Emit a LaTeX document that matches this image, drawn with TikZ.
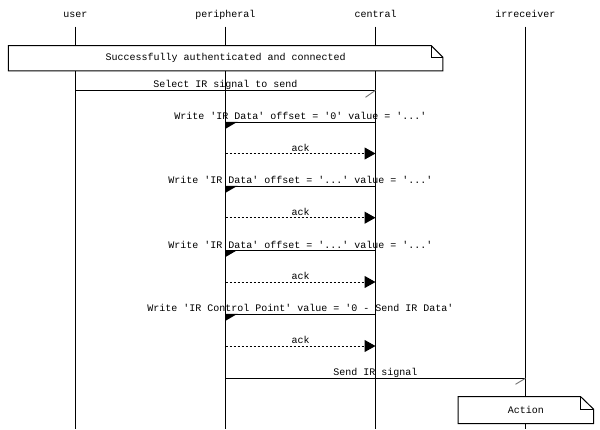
\documentclass[tikz,border=0pt]{standalone}
\usepackage{fontspec}
\setmonofont{Liberation Mono}
\usetikzlibrary{arrows.meta,calc}

\tikzset{
  every node/.style={font=\ttfamily\fontsize{10}{12}\selectfont, inner sep=0pt},
  entity/.style={anchor=base},
  lifeline/.style={line width=1pt},
  msg/.style={line width=1pt},
  reply/.style={line width=1pt, dash pattern=on 2pt off 2pt,
                -{Triangle[length=11pt,width=12pt]}},
  msglabel/.style={anchor=base, yshift=2.5pt, midway},
  barb/.style={line width=0.9pt, black!55},
  writehead/.style={fill=black},
  notebody/.style={fill=white},
  noteline/.style={line width=1pt, line join=miter},
}

\begin{document}
\begin{tikzpicture}[x=1pt,y=-1pt]
  \useasboundingbox (0,0) rectangle (600,429);
  \fill[white] (0,0) rectangle (600,429);

  % entities
  \node[entity] (user)       at (75.5,17)  {user};
  \node[entity] (peripheral) at (225.5,17) {peripheral};
  \node[entity] (central)    at (375.5,17) {central};
  \node[entity] (irreceiver) at (525.5,17) {irreceiver};
  \coordinate (bottom) at (0,429);

  % lifelines
  \foreach \e in {user,peripheral,central,irreceiver}
    \draw[lifeline] ([yshift=-9.5pt]\e.base) -- (\e.base |- bottom);

  % message rows
  \coordinate (r0) at (0,90.3);
  \coordinate (r1) at (0,122.3);
  \coordinate (r2) at (0,153.5);
  \coordinate (r3) at (0,186.3);
  \coordinate (r4) at (0,217.7);
  \coordinate (r5) at (0,250.5);
  \coordinate (r6) at (0,282);
  \coordinate (r7) at (0,314.3);
  \coordinate (r8) at (0,346);
  \coordinate (r9) at (0,378.3);

  % user selects a signal
  \draw[msg] (user |- r0) -- node[msglabel] (m0) {Select IR signal to send} (central |- r0);
  \draw[barb] (central |- r0) -- ++(-10,7);

  % data writes and acknowledgements
  \draw[msg] (central |- r1) -- node[msglabel] (m1) {Write 'IR Data' offset = '0' value = '...'} (peripheral |- r1);
  \fill[writehead] (peripheral |- r1) ++(0,-0.5) -- ++(12,0) -- ++(-12,7) -- cycle;
  \draw[reply] (peripheral |- r2) -- node[msglabel] (a1) {ack} (central |- r2);

  \draw[msg] (central |- r3) -- node[msglabel] (m2) {Write 'IR Data' offset = '...' value = '...'} (peripheral |- r3);
  \fill[writehead] (peripheral |- r3) ++(0,-0.5) -- ++(12,0) -- ++(-12,7) -- cycle;
  \draw[reply] (peripheral |- r4) -- node[msglabel] (a2) {ack} (central |- r4);

  \draw[msg] (central |- r5) -- node[msglabel] (m3) {Write 'IR Data' offset = '...' value = '...'} (peripheral |- r5);
  \fill[writehead] (peripheral |- r5) ++(0,-0.5) -- ++(12,0) -- ++(-12,7) -- cycle;
  \draw[reply] (peripheral |- r6) -- node[msglabel] (a3) {ack} (central |- r6);

  \draw[msg] (central |- r7) -- node[msglabel] (m4) {Write 'IR Control Point' value = '0 - Send IR Data'} (peripheral |- r7);
  \fill[writehead] (peripheral |- r7) ++(0,-0.5) -- ++(12,0) -- ++(-12,7) -- cycle;
  \draw[reply] (peripheral |- r8) -- node[msglabel] (a4) {ack} (central |- r8);

  % transmission
  \draw[msg] (peripheral |- r9) -- node[msglabel] (m5) {Send IR signal} (irreceiver |- r9);
  \draw[barb] (irreceiver |- r9) -- ++(-10,6);

  % notes
  \node[notebody, minimum width=434pt, minimum height=25pt] (auth) at (225.6,58.2)
    {Successfully authenticated and connected};
  \draw[noteline] (auth.north west) -- ([xshift=-11.7pt]auth.north east)
    -- ([yshift=-11.7pt]auth.north east) -- (auth.south east) -- (auth.south west) -- cycle;
  \draw[noteline] ([xshift=-11.7pt]auth.north east) |- ([yshift=-11.7pt]auth.north east);

  \node[notebody, minimum width=135pt, minimum height=26.6pt] (action) at (525.8,410)
    {Action};
  \draw[noteline] (action.north west) -- ([xshift=-13pt]action.north east)
    -- ([yshift=-12.6pt]action.north east) -- (action.south east) -- (action.south west) -- cycle;
  \draw[noteline] ([xshift=-13pt]action.north east) |- ([yshift=-12.6pt]action.north east);
\end{tikzpicture}
\end{document}
